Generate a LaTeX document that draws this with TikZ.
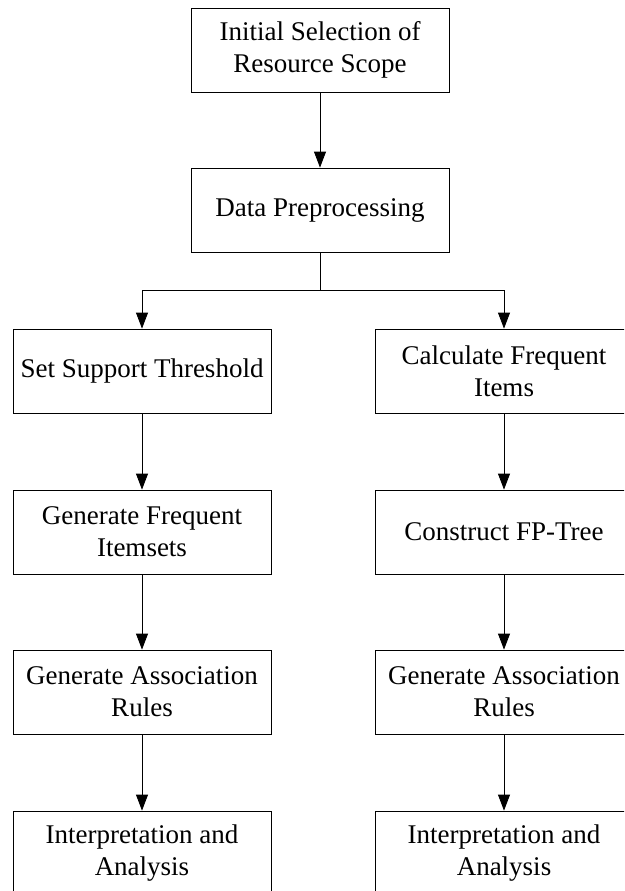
\documentclass[tikz,border=0pt]{standalone}
\usepackage{fontspec}
\setmainfont{Liberation Serif}
\usetikzlibrary{positioning, calc, arrows.meta}

\begin{document}
\begin{tikzpicture}[
  x=1pt, y=-1pt,
  box/.style = {draw, line width=0.8pt, align=center, fill=white,
                font=\fontsize{27}{32}\selectfont,
                minimum width=258pt, minimum height=84pt, inner sep=0pt},
  arr/.style = {-{Triangle[length=16pt, width=12pt]}, line width=0.8pt},
  link/.style = {line width=0.8pt},
]
\useasboundingbox (0,0) rectangle (624,891);
\clip (0,0) rectangle (624,891);

% ---- common trunk -----------------------------------------------------------
\node[box] (scope) at (320,50)  {Initial Selection of\\Resource Scope};
\node[box] (prep)  at (320,210) {Data Preprocessing};

\draw[arr] (scope.south) -- (prep.north);
\draw[link] (prep.south) -- ++(0,38) coordinate (split);

% ---- left branch ------------------------------------------------------------
\node[box] (supp)    at (142,371) {Set Support Threshold};
\node[box] (freqset) at (142,532) {Generate Frequent\\Itemsets};
\node[box] (rulesL)  at (142,692) {Generate Association\\Rules};
\node[box] (interpL) at (142,853) {Interpretation and\\Analysis};

% ---- right branch -----------------------------------------------------------
\node[box] (calc)    at (504,371) {Calculate Frequent\\Items};
\node[box] (fptree)  at (504,532) {Construct FP-Tree};
\node[box] (rulesR)  at (504,692) {Generate Association\\Rules};
\node[box] (interpR) at (504,853) {Interpretation and\\Analysis};

% split into the two branches
\draw[arr] (split) -| (supp.north);
\draw[arr] (split) -| (calc.north);

% steps down each branch
\draw[arr] (supp.south)    -- (freqset.north);
\draw[arr] (freqset.south) -- (rulesL.north);
\draw[arr] (rulesL.south)  -- (interpL.north);
\draw[arr] (calc.south)    -- (fptree.north);
\draw[arr] (fptree.south)  -- (rulesR.north);
\draw[arr] (rulesR.south)  -- (interpR.north);

\end{tikzpicture}
\end{document}
